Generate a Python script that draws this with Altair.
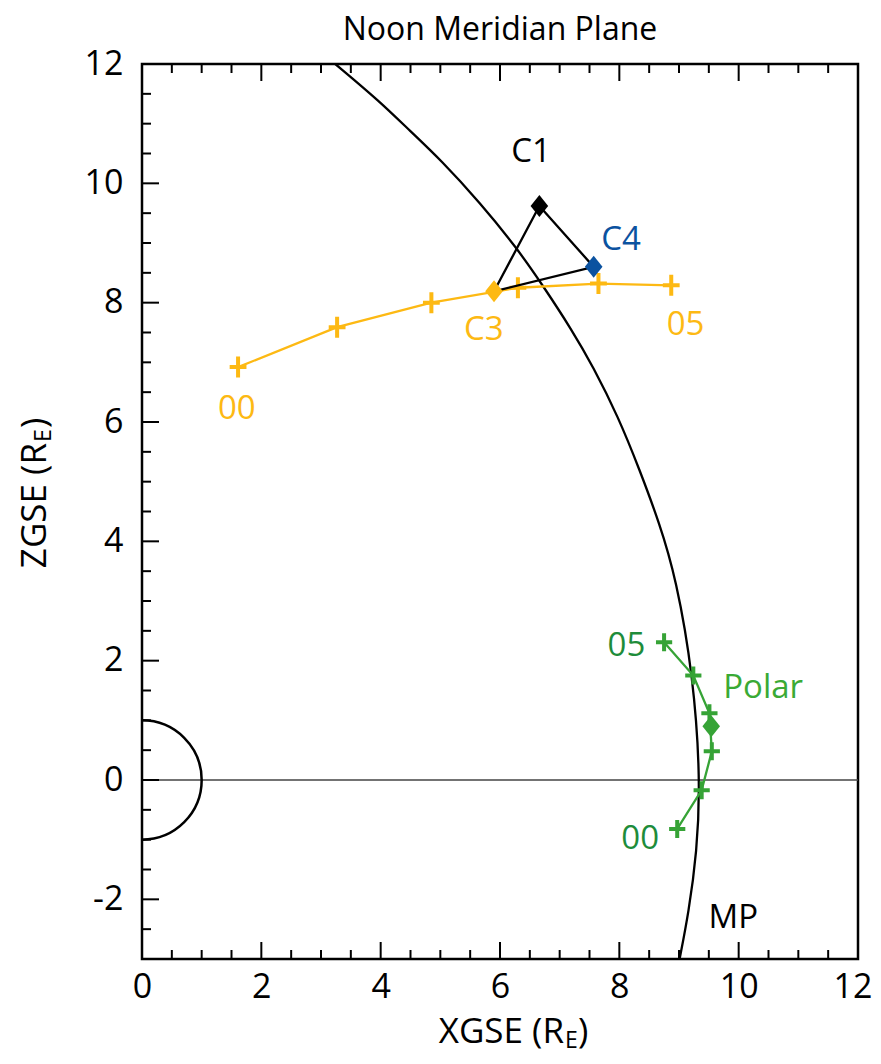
import altair as alt
import pandas as pd

# ---------------- data (GSE, Earth radii) ----------------
# Cluster C3 track, hourly crosses 00..05 UT
c3_x = [1.61, 3.27, 4.85, 6.30, 7.65, 8.87]
c3_z = [6.92, 7.59, 8.00, 8.25, 8.32, 8.29]
# Polar track, hourly crosses 00..05 UT
polar_x = [8.97, 9.38, 9.55, 9.51, 9.24, 8.75]
polar_z = [-0.82, -0.17, 0.48, 1.12, 1.75, 2.31]
# spacecraft positions (diamonds)
sc_names = ["C1", "C3", "C4", "Polar"]
sc_x = [6.66, 5.90, 7.57, 9.54]
sc_z = [9.62, 8.19, 8.60, 0.90]
sc_colors = ["#000000", "#FDB913", "#0B52A0", "#36A336"]
# magnetopause (MP) trace
mp_x = [3.24, 3.99, 4.50, 5.00, 5.67, 6.28, 6.73, 7.20, 7.56, 7.98, 8.34, 8.67,
        8.95, 9.24, 9.36, 9.30, 9.16, 9.01]
mp_z = [12.0, 11.37, 10.87, 10.40, 9.67, 8.92, 8.27, 7.55, 6.93, 6.09, 5.20, 4.31,
        3.39, 1.74, 0.0, -1.22, -2.23, -3.0]
# annotations
lab_text = ["C1", "C4", "C3", "05", "00", "05", "Polar", "00", "MP"]
lab_x = [6.52, 8.03, 5.73, 9.11, 1.59, 8.12, 10.41, 8.35, 9.91]
lab_z = [10.53, 9.05, 7.55, 7.63, 6.22, 2.24, 1.55, -0.99, -2.31]
lab_color = ["#000000", "#0B52A0", "#FDB913", "#FDB913", "#FDB913",
             "#1E8C3A", "#3AAA35", "#1E8C3A", "#000000"]
# axis ticks
x_major = [2, 4, 6, 8, 10]
x_minor = [0.5, 1, 1.5, 2.5, 3, 3.5, 4.5, 5, 5.5, 6.5, 7, 7.5, 8.5, 9, 9.5,
           10.5, 11, 11.5]
y_major = [-2, 0, 2, 4, 6, 8, 10]
y_minor = [-2.5, -1.5, -1, -0.5, 0.5, 1, 1.5, 2.5, 3, 3.5, 4.5, 5, 5.5, 6.5, 7,
           7.5, 8.5, 9, 9.5, 10.5, 11, 11.5]
x_labels = [0, 2, 4, 6, 8, 10, 12]
y_labels = [-2, 0, 2, 4, 6, 8, 10, 12]

# ---------------- layout ----------------
W, H = 716, 895
FONT = "Open Sans"
YELLOW = "#FDB913"
GREEN = "#36A336"

xs = alt.Scale(domain=[0, 12], nice=False, zero=False)
ys = alt.Scale(domain=[-3, 12], nice=False, zero=False)
X = lambda f: alt.X(f, type="quantitative", scale=xs,
                    axis=alt.Axis(values=x_labels, title=None, grid=False, ticks=False,
                                  tickSize=0, domain=False, labelFont=FONT,
                                  labelFontSize=34, labelColor="black",
                                  labelPadding=11, labelFlush=False,
                                  labelAlign={"condition": {"test": "datum.value == 12",
                                                            "value": "right"},
                                              "value": "center"},
                                  labelOffset={"condition": {"test": "datum.value == 12",
                                                             "value": 14},
                                               "value": 0},
                                  labelExpr="'' + datum.value"))
Y = lambda f: alt.Y(f, type="quantitative", scale=ys,
                    axis=alt.Axis(values=y_labels, title=None, grid=False, ticks=False,
                                  tickSize=0, domain=False, labelFont=FONT,
                                  labelFontSize=34, labelColor="black",
                                  labelPadding=19, labelFlush=False,
                                  labelExpr="'' + datum.value"))

c3_df = pd.DataFrame({"x": c3_x, "z": c3_z, "i": range(len(c3_x))})
po_df = pd.DataFrame({"x": polar_x, "z": polar_z, "i": range(len(polar_x))})
sc_df = pd.DataFrame({"name": sc_names, "x": sc_x, "z": sc_z, "c": sc_colors})
mp_df = pd.DataFrame({"x": mp_x, "z": mp_z, "i": range(len(mp_x))})
lab_df = pd.DataFrame({"t": lab_text, "x": lab_x, "z": lab_z, "c": lab_color})

tri_order = ["C3", "C1", "C4", "C3"]
tri_df = pd.DataFrame({
    "x": [sc_x[sc_names.index(n)] for n in tri_order],
    "z": [sc_z[sc_names.index(n)] for n in tri_order],
    "i": range(len(tri_order)),
})

zero_line = alt.Chart(pd.DataFrame({"z": [0]})).mark_rule(
    color="#444444", strokeWidth=1.5).encode(y=Y("z"))

px_per_unit = W / 12.0
earth = alt.Chart(pd.DataFrame({"x": [0], "z": [0]})).mark_point(
    shape="circle", filled=False, color="black", strokeWidth=2.5, opacity=1,
    size=(2 * px_per_unit) ** 2, clip=True).encode(x=X("x"), y=Y("z"))

mp_line = alt.Chart(mp_df).mark_line(
    color="black", strokeWidth=2.3, interpolate="basis", clip=True).encode(
    x=X("x"), y=Y("z"), order="i:Q")

c3_line = alt.Chart(c3_df).mark_line(color=YELLOW, strokeWidth=2.3).encode(
    x=X("x"), y=Y("z"), order="i:Q")
c3_cross = alt.Chart(c3_df).mark_point(
    shape="M-0.8,0L0.8,0M0,-1L0,1", filled=False, color=YELLOW, strokeWidth=4,
    opacity=1, size=441).encode(x=X("x"), y=Y("z"))

po_line = alt.Chart(po_df).mark_line(color=GREEN, strokeWidth=2.3).encode(
    x=X("x"), y=Y("z"), order="i:Q")
po_cross = alt.Chart(po_df).mark_point(
    shape="M-0.9,0L0.9,0M0,-1L0,1", filled=False, color=GREEN, strokeWidth=4,
    opacity=1, size=324).encode(x=X("x"), y=Y("z"))

tri = alt.Chart(tri_df).mark_line(color="black", strokeWidth=2.3).encode(
    x=X("x"), y=Y("z"), order="i:Q")

diamonds = alt.Chart(sc_df).mark_point(
    shape="M0,-1L0.8,0L0,1L-0.8,0Z", filled=True, opacity=1, size=484).encode(
    x=X("x"), y=Y("z"), color=alt.Color("c:N", scale=None))

labels = alt.Chart(lab_df).mark_text(
    font=FONT, fontSize=33, align="center", baseline="middle").encode(
    x=X("x"), y=Y("z"), text="t:N", color=alt.Color("c:N", scale=None))

# inward tick marks (bottom, top, left)
def xticks(vals, length):
    d = pd.DataFrame({"v": vals})
    b = alt.Chart(d).mark_rule(color="black", strokeWidth=2).encode(
        x=X("v"), y=alt.value(H), y2=alt.value(H - length))
    t = alt.Chart(d).mark_rule(color="black", strokeWidth=2).encode(
        x=X("v"), y=alt.value(0), y2=alt.value(length))
    return b + t

def yticks(vals, length):
    d = pd.DataFrame({"v": vals})
    return alt.Chart(d).mark_rule(color="black", strokeWidth=2).encode(
        y=Y("v"), x=alt.value(0), x2=alt.value(length))

ticks = xticks(x_major, 17) + xticks(x_minor, 9) + yticks(y_major, 17) + yticks(y_minor, 9)

# axis titles with subscript E
one = pd.DataFrame({"k": [0]})
def txt(s, x, y, size, align, angle=0):
    return alt.Chart(one).mark_text(
        text=s, font=FONT, fontSize=size, align=align, baseline="alphabetic",
        angle=angle, color="black").encode(x=alt.value(x), y=alt.value(y))

xt = (txt("XGSE (R", 422, 979, 35, "right") + txt("E", 423, 984, 23, "left")
      + txt(")", 436, 979, 35, "left"))
yt = (txt("ZGSE (R", -96, 379, 35, "right", 270) + txt("E", -91, 378, 23, "left", 270)
      + txt(")", -96, 364, 35, "left", 270))

chart = alt.layer(
    zero_line, earth, mp_line, c3_line, c3_cross, po_line, po_cross, tri,
    diamonds, labels, ticks, xt, yt
).properties(
    width=W, height=H,
    title=alt.TitleParams("Noon Meridian Plane", font=FONT, fontSize=32,
                          fontWeight="normal", color="black", offset=0,
                          anchor="middle"),
    padding={"left": 134, "top": 56, "right": 15, "bottom": 97},
    autosize=alt.AutoSizeParams(type="none"),
).configure_view(stroke="black", strokeWidth=2.5)

chart.save("out.html", embed_options={"renderer": "svg", "actions": False})
